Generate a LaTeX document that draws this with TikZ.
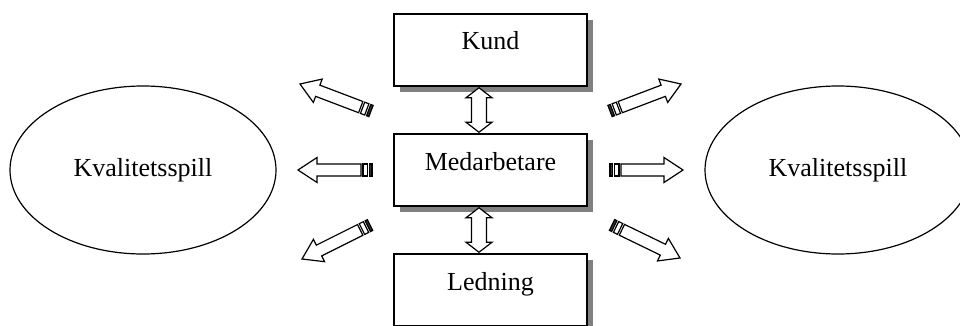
\documentclass[tikz,border=0pt]{standalone}
\usepackage{fontspec}
\setmainfont{Liberation Serif}
\usetikzlibrary{calc,shapes.geometric,shadows}

\tikzset{
  lbl/.style={font=\fontsize{26pt}{30pt}\selectfont},
  box/.style={lbl, draw, line width=1.5pt, fill=white,
    minimum width=193pt, inner xsep=0pt, inner ysep=0pt,
    text height=36pt, text depth=36pt,
    drop shadow={shadow xshift=6pt, shadow yshift=-6pt, fill=black!50, opacity=1}},
  oval/.style={lbl, draw, ellipse, line width=1.2pt, inner sep=0pt,
    text height=19pt, text depth=7pt,
    minimum width=266pt, minimum height=168pt},
  arrowline/.style={draw, fill=white, line width=1.2pt, line join=miter},
}

% block arrow with a striped tail, from tail #1 to tip #2
\newcommand\StripedArrow[2]{%
  \draw[arrowline, fill=black!80]
    ($(#1)!0pt!(#2)!6pt!90:(#2)$) -- ($(#1)!2.5pt!(#2)!6pt!90:(#2)$) --
    ($(#1)!2.5pt!(#2)!6pt!-90:(#2)$) -- ($(#1)!0pt!(#2)!6pt!-90:(#2)$) -- cycle;
  \draw[arrowline]
    ($(#1)!4.5pt!(#2)!6pt!90:(#2)$) -- ($(#1)!9pt!(#2)!6pt!90:(#2)$) --
    ($(#1)!9pt!(#2)!6pt!-90:(#2)$) -- ($(#1)!4.5pt!(#2)!6pt!-90:(#2)$) -- cycle;
  \draw[arrowline]
    ($(#1)!11pt!(#2)!6pt!90:(#2)$) --
    ($(#2)!19pt!(#1)!6pt!-90:(#1)$) --
    ($(#2)!19pt!(#1)!12.5pt!-90:(#1)$) --
    (#2) --
    ($(#2)!19pt!(#1)!12.5pt!90:(#1)$) --
    ($(#2)!19pt!(#1)!6pt!90:(#1)$) --
    ($(#1)!11pt!(#2)!6pt!-90:(#2)$) -- cycle;
}

% hollow double-headed vertical arrow, from top tip #1 to bottom tip #2
\newcommand\HollowUpDown[2]{%
  \draw[arrowline] (#1) -- ++(13,10) -- ++(-5.5,0) -- ($(#2)+(7.5,-10)$)
    -- ++(5.5,0) -- (#2) -- ++(-13,-10) -- ++(5.5,0) -- ($(#1)+(-7.5,10)$)
    -- ++(-5.5,0) -- cycle;
}

\begin{document}
\begin{tikzpicture}[x=1pt, y=-1pt]
  \useasboundingbox (0,0) rectangle (960,326);

  % boxes in the middle column
  \node[box] (kund) at (490.5,50) {Kund};
  \node[box] (med)  at (490.5,170) {Medarbetare};
  \node[box] (led)  at (490.5,290) {Ledning};

  % ovals on both sides
  \node[oval] (kvL) at (143,170) {Kvalitetsspill};
  \node[oval] (kvR) at (838,170) {Kvalitetsspill};

  % links between the boxes
  \coordinate (k1) at ($(kund.south)+(-11.5,1)$);
  \coordinate (m1) at ($(med.north)+(-11.5,-1)$);
  \coordinate (m2) at ($(med.south)+(-11.5,1)$);
  \coordinate (l1) at ($(led.north)+(-11.5,-1)$);
  \HollowUpDown{k1}{m1}
  \HollowUpDown{m2}{l1}

  % arrows pointing outwards
  \coordinate (ulT) at (371,111); \coordinate (ulH) at (300,84);
  \coordinate (mlT) at (372,170); \coordinate (mlH) at (298,170);
  \coordinate (llT) at (370,225); \coordinate (llH) at (302,259);
  \coordinate (urT) at (610,111); \coordinate (urH) at (681,84);
  \coordinate (mrT) at (610,170); \coordinate (mrH) at (683,170);
  \coordinate (lrT) at (612,225); \coordinate (lrH) at (680,258);
  \StripedArrow{ulT}{ulH}
  \StripedArrow{mlT}{mlH}
  \StripedArrow{llT}{llH}
  \StripedArrow{urT}{urH}
  \StripedArrow{mrT}{mrH}
  \StripedArrow{lrT}{lrH}
\end{tikzpicture}
\end{document}
